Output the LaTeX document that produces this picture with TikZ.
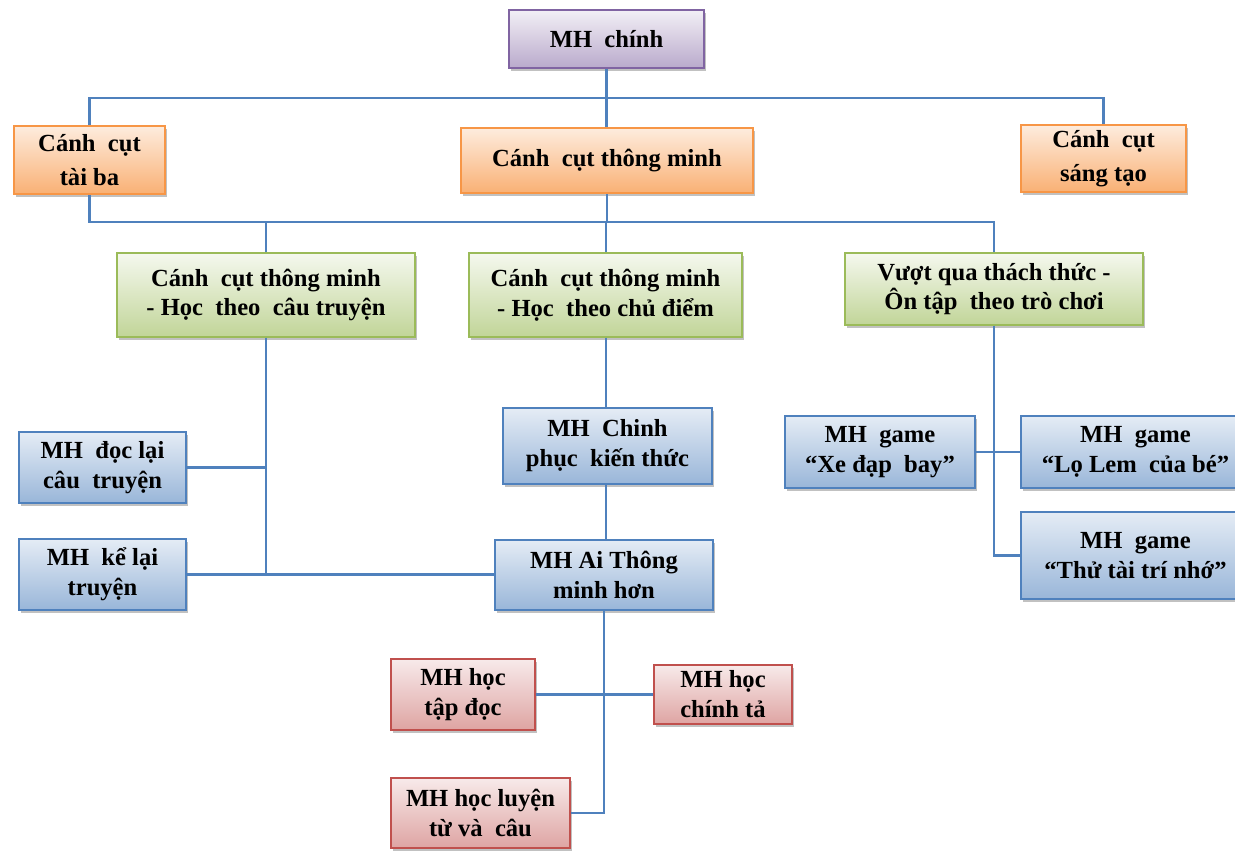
\documentclass[tikz,border=0pt]{standalone}
\usepackage{fontspec}
\setmainfont{Liberation Serif}
\usetikzlibrary{shadows}

\definecolor{linkblue}{HTML}{4F81BD}
\definecolor{purpleedge}{HTML}{8064A2}
\definecolor{orangeedge}{HTML}{F79646}
\definecolor{greenedge}{HTML}{9BBB59}
\definecolor{blueedge}{HTML}{4F81BD}
\definecolor{rededge}{HTML}{C0504D}

\tikzset{
  basebox/.style={rectangle, draw, line width=0.8pt, align=center, inner sep=0pt,
    font=\bfseries\fontsize{14}{17}\selectfont, text=black,
    drop shadow={shadow xshift=1.2pt, shadow yshift=-1.6pt, opacity=0.35, fill=black!70}},
  purplebox/.style={basebox, draw=purpleedge, top color=purpleedge!10!white, bottom color=purpleedge!55!white},
  orangebox/.style={basebox, draw=orangeedge, top color=orangeedge!18!white, bottom color=orangeedge!75!white,
    font=\bfseries\fontsize{14}{19}\selectfont},
  greenbox/.style={basebox, draw=greenedge, top color=greenedge!10!white, bottom color=greenedge!62!white},
  bluebox/.style={basebox, draw=blueedge, top color=blueedge!15!white, bottom color=blueedge!58!white},
  redbox/.style={basebox, draw=rededge, top color=rededge!12!white, bottom color=rededge!52!white},
  link/.style={draw=linkblue, line width=1.2pt}
}

% box from its corner coordinates: style, name, x1, y1, x2, y2, text
\newcommand\pbox[7]{%
  \node[#1, minimum width={(#5-#3)*0.02cm}, minimum height={(#6-#4)*0.02cm}]
    (#2) at ({(#3+#5)/2},{(#4+#6)/2}) {#7};}

\begin{document}
\begin{tikzpicture}[x=0.02cm,y=-0.02cm]
\path[use as bounding box] (0,0) rectangle (1235,850);
\clip (0,0) rectangle (1235,850);

% level 0 and 1
\pbox{purplebox}{main}{509}{10}{704}{68}{MH\ \ chính}
\pbox{orangebox}{taiba}{14}{126}{165}{194}{Cánh\ \ cụt\\tài ba}
\pbox{orangebox}{thongminh}{461}{128}{753}{193}{Cánh\ \ cụt thông minh}
\pbox{orangebox}{sangtao}{1021}{125}{1186}{192}{Cánh\ \ cụt\\sáng tạo}

% level 2
\pbox{greenbox}{truyen}{117}{253}{415}{337}{Cánh\ \ cụt thông minh\\- Học\ \ theo\ \ câu truyện}
\pbox{greenbox}{chudiem}{469}{253}{742}{337}{Cánh\ \ cụt thông minh\\- Học\ \ theo chủ điểm}
\pbox{greenbox}{vuotqua}{845}{253}{1143}{325}{Vượt qua thách thức -\\Ôn tập\ \ theo trò chơi}

% screens of the story branch
\pbox{bluebox}{doclai}{19}{432}{186}{503}{MH\ \ đọc lại\\câu\ \ truyện}
\pbox{bluebox}{kelai}{19}{539}{186}{610}{MH\ \ kể lại\\truyện}

% screens of the topic branch
\pbox{bluebox}{chinhphuc}{503}{408}{712}{484}{MH\ \ Chinh\\phục\ \ kiến thức}
\pbox{bluebox}{ai}{495}{540}{713}{610}{MH Ai Thông\\minh hơn}

% game screens
\pbox{bluebox}{xedap}{785}{416}{975}{488}{MH\ \ game\\“Xe đạp\ \ bay”}
\pbox{bluebox}{lolem}{1021}{416}{1250}{488}{MH\ \ game\\“Lọ Lem\ \ của bé”}
\pbox{bluebox}{thutai}{1021}{512}{1250}{599}{MH\ \ game\\“Thử tài trí nhớ”}

% lesson screens
\pbox{redbox}{tapdoc}{391}{659}{535}{730}{MH\ học\\tập đọc}
\pbox{redbox}{chinhta}{654}{665}{792}{724}{MH\ học\\chính tả}
\pbox{redbox}{luyentu}{391}{778}{570}{848}{MH học luyện\\từ và\ \ câu}

% connectors
\coordinate (bus1) at (606,98);
\coordinate (bus2) at (606,222);
\draw[link] (main.south) -- (main.south |- thongminh.north);
\draw[link] (taiba.north) |- (bus1) -| (sangtao.north);
\draw[link] (thongminh.south |- bus2) -- (thongminh.south);
\draw[link] (bus2) -- (bus2 |- chudiem.north);
\draw[link] (taiba.south) |- (bus2) -| (vuotqua.north);
\draw[link] (truyen.north) -- (truyen.north |- bus2);

\draw[link] (truyen.south) -- (truyen.south |- kelai.east);
\draw[link] (doclai.east) -- (doclai.east -| truyen.south);
\draw[link] (kelai.east) -- (kelai.east -| ai.west);

\draw[link] (bus2 |- chudiem.south) -- (bus2 |- chinhphuc.north);
\draw[link] (bus2 |- chinhphuc.south) -- (bus2 |- ai.north);
\draw[link] (ai.south) |- (luyentu.east);
\draw[link] (tapdoc.east) -- (tapdoc.east -| chinhta.west);

\draw[link] (vuotqua.south) |- (thutai.west);
\draw[link] (xedap.east) -- (xedap.east -| lolem.west);
\end{tikzpicture}
\end{document}
